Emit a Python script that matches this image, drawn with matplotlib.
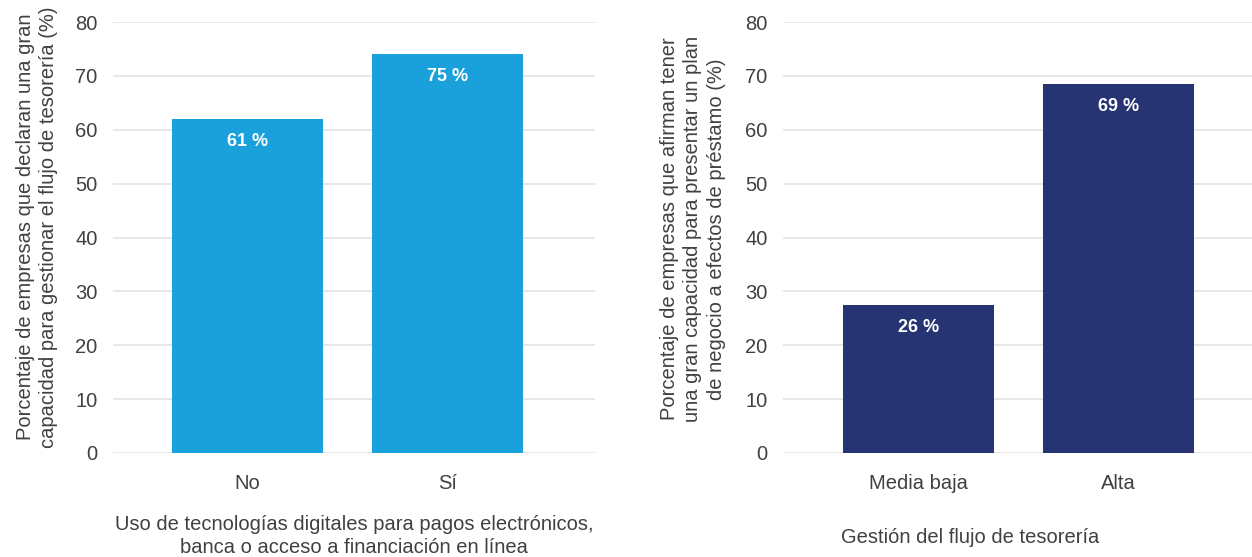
"""Two bar charts: treasury management capacity vs digital tools / loan readiness."""

import matplotlib
import matplotlib.pyplot as plt
import numpy as np

matplotlib.use("Agg")

plt.rcParams["font.family"] = ["Liberation Sans", "DejaVu Sans"]

# ── Data ─────────────────────────────────────────────────────────────────────

LEFT_CATS = ["No", "Sí"]
LEFT_VALS = [62.0, 74.0]
LEFT_LABELS = ["61 %", "75 %"]

RIGHT_CATS = ["Media baja", "Alta"]
RIGHT_VALS = [27.5, 68.5]
RIGHT_LABELS = ["26 %", "69 %"]

LEFT_COLOR = "#1aa0da"
RIGHT_COLOR = "#273474"
TEXT_COLOR = "#404040"
GRID_COLOR = "#e3e3e3"

W, H = 1252, 557
fig = plt.figure(figsize=(W / 100, H / 100), dpi=100)

ax1 = fig.add_axes([113 / W, 104 / H, 482 / W, 431 / H])
ax2 = fig.add_axes([783 / W, 104 / H, 469 / W, 431 / H])


def style(ax, cats, vals, labels, color, xlim):
    x = np.arange(len(cats))
    bars = ax.bar(x, vals, width=0.755, color=color, zorder=3)
    ax.set_ylim(0, 80)
    ax.set_xlim(*xlim)
    ax.set_yticks(np.arange(0, 81, 10))
    ax.set_xticks(x)
    ax.set_xticklabels(cats)
    ax.tick_params(axis="both", length=0, labelsize=14.5, colors=TEXT_COLOR)
    ax.tick_params(axis="x", pad=15)
    ax.tick_params(axis="y", pad=11)
    for s in ax.spines.values():
        s.set_visible(False)
    ax.grid(axis="y", color=GRID_COLOR, linewidth=1.2, zorder=0)
    ax.set_axisbelow(True)
    for bar, lab in zip(bars, labels):
        ax.annotate(
            lab,
            (bar.get_x() + bar.get_width() / 2, bar.get_height()),
            xytext=(0, -16),
            textcoords="offset points",
            ha="center",
            va="center",
            color="white",
            fontsize=13,
            fontweight="bold",
        )


style(ax1, LEFT_CATS, LEFT_VALS, LEFT_LABELS, LEFT_COLOR, (-0.67, 1.735))
style(ax2, RIGHT_CATS, RIGHT_VALS, RIGHT_LABELS, RIGHT_COLOR, (-0.68, 1.67))

ax1.set_ylabel(
    "Porcentaje de empresas que declaran una gran\n"
    "capacidad para gestionar el flujo de tesorería (%)",
    fontsize=14.5,
    color=TEXT_COLOR,
    linespacing=1.3,
)
ax1.yaxis.set_label_coords(-0.114, 0.524)
ax1.set_xlabel(
    "Uso de tecnologías digitales para pagos electrónicos,\n"
    "banca o acceso a financiación en línea",
    fontsize=14.5,
    color=TEXT_COLOR,
    linespacing=1.25,
)
ax1.xaxis.set_label_coords(0.5, -0.144)
ax1.xaxis.label.set_va("top")

ax2.set_ylabel(
    "Porcentaje de empresas que afirman tener\n"
    "una gran capacidad para presentar un plan\n"
    "de negocio a efectos de préstamo (%)",
    fontsize=14.5,
    color=TEXT_COLOR,
    linespacing=1.3,
)
ax2.yaxis.set_label_coords(-0.122, 0.52)
ax2.set_xlabel(
    "Gestión del flujo de tesorería",
    fontsize=14.5,
    color=TEXT_COLOR,
)
ax2.xaxis.set_label_coords(0.40, -0.175)

fig.savefig("out.png", dpi=100)
plt.close(fig)
